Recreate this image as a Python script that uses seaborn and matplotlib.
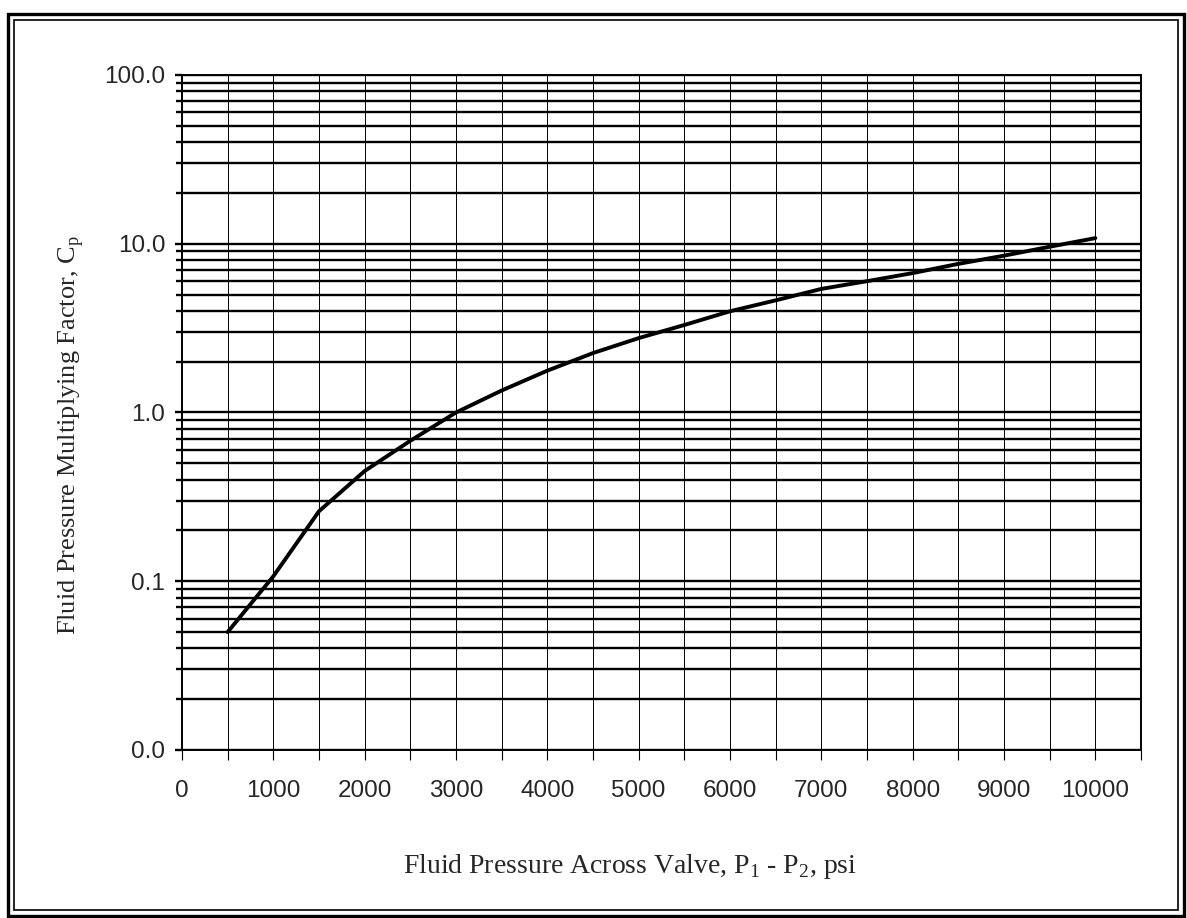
import matplotlib
matplotlib.use("Agg")
import matplotlib.pyplot as plt
import seaborn as sns
import pandas as pd
import numpy as np
from matplotlib.patches import Rectangle
from matplotlib.ticker import MultipleLocator, LogLocator, FixedLocator, FixedFormatter, NullFormatter

# values
pressure = [500, 1000, 1500, 2000, 2500, 3000, 3500, 4000, 4500, 5000,
            5500, 6000, 6500, 7000, 7500, 8000, 8500, 9000, 9500, 10000]
cp_factor = [0.05, 0.107, 0.26, 0.45, 0.68, 1.0, 1.35, 1.77, 2.25, 2.76,
             3.3, 3.98, 4.62, 5.4, 6.0, 6.7, 7.6, 8.5, 9.6, 10.8]
y_tick_values = [0.01, 0.1, 1, 10, 100]
y_tick_labels = ["0.0", "0.1", "1.0", "10.0", "100.0"]
x_tick_values = [0, 1000, 2000, 3000, 4000, 5000, 6000, 7000, 8000, 9000, 10000]

df = pd.DataFrame({"pressure": pressure, "cp": cp_factor})

sns.set_style("white")
plt.rcParams["font.family"] = ["Liberation Sans", "DejaVu Sans"]

W, H = 1187, 918
fig = plt.figure(figsize=(W / 100, H / 100), dpi=100)
ax = fig.add_axes([182 / W, 1 - 750 / H, (1141 - 182) / W, (750 - 75) / H])

sns.lineplot(data=df, x="pressure", y="cp", ax=ax, color="black", linewidth=2.8)

ax.set_yscale("log")
ax.set_xlim(0, 10500)
ax.set_ylim(0.01, 100)

# x: labelled every 1000, grid every 500
ax.xaxis.set_major_locator(FixedLocator(x_tick_values))
ax.xaxis.set_minor_locator(MultipleLocator(500))
ax.yaxis.set_major_locator(FixedLocator(y_tick_values))
ax.yaxis.set_major_formatter(FixedFormatter(y_tick_labels))
ax.yaxis.set_minor_locator(LogLocator(base=10, subs=np.arange(2, 10)))
ax.yaxis.set_minor_formatter(NullFormatter())

ax.grid(True, which="both", axis="x", color="black", linewidth=0.7)
ax.grid(True, which="both", axis="y", color="black", linewidth=1.7)

ax.tick_params(axis="x", which="both", direction="out", length=7, width=0.8,
               color="black", labelsize=17.5, pad=14.5)
ax.tick_params(axis="y", which="major", direction="out", length=5, width=1.7,
               color="black", labelsize=17.5, pad=7)
ax.tick_params(axis="y", which="minor", direction="out", length=4, width=1.7,
               color="black")
ax.tick_params(which="both", bottom=True, left=True)

for s in ax.spines.values():
    s.set_color("black")
    s.set_linewidth(1.4)

serif = ["Liberation Serif", "DejaVu Serif"]
ax.set_xlabel(r"Fluid Pressure Across Valve, P$_\mathregular{1}$ - P$_\mathregular{2}$, psi",
              family=serif, fontsize=20)
ax.set_ylabel(r"Fluid Pressure Multiplying Factor, C$_\mathregular{p}$",
              family=serif, fontsize=19)
ax.xaxis.set_label_coords((630 - 182) / (1141 - 182), -(852 - 750) / (750 - 75))
ax.yaxis.set_label_coords(-(182 - 86) / (1141 - 182), (750 - 435) / (750 - 75))

# double border around the whole page
def px_rect(x0, y0, x1, y1, lw):
    fig.patches.append(Rectangle((x0 / W, 1 - y1 / H), (x1 - x0) / W, (y1 - y0) / H,
                                 transform=fig.transFigure, fill=False,
                                 edgecolor="black", linewidth=lw))

px_rect(8, 14, 1184, 916, 2.4)
px_rect(14, 20, 1178, 910, 1.2)

fig.savefig("out.png", dpi=100)
